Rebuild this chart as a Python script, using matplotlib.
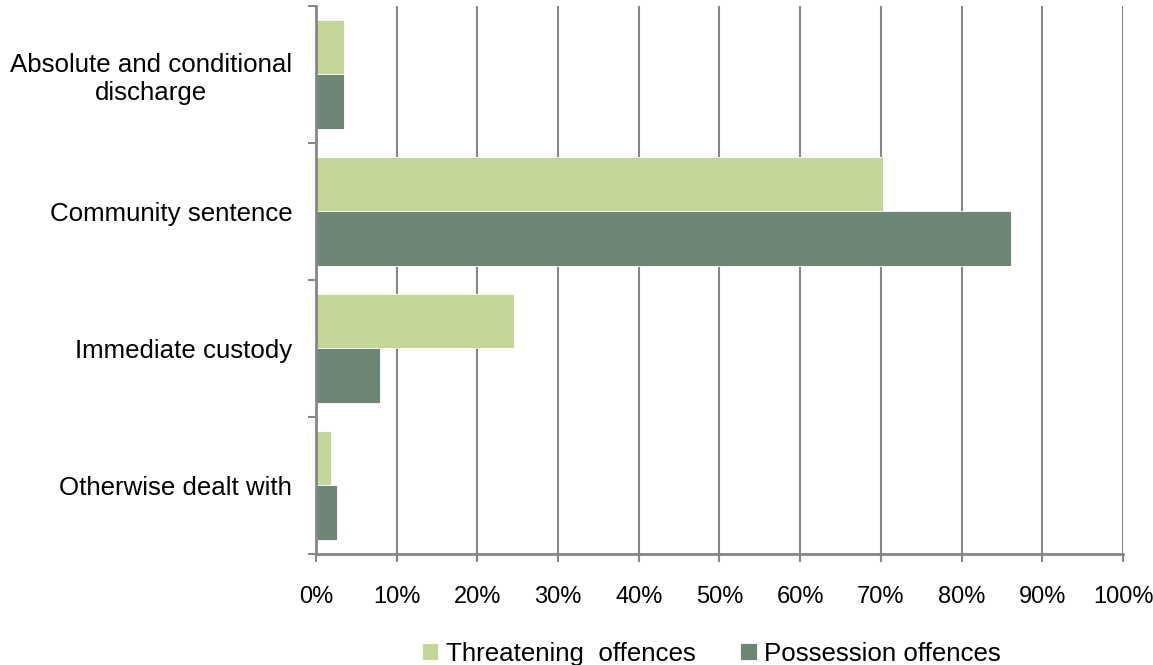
import numpy as np
import matplotlib
matplotlib.use("Agg")
from matplotlib import pyplot as plt
from matplotlib.ticker import FixedLocator, FuncFormatter

# sentencing outcomes (% of offenders)
categories = ["Absolute and conditional\ndischarge", "Community sentence",
              "Immediate custody", "Otherwise dealt with"]
threatening = [3.5, 70.2, 24.5, 1.9]
possession = [3.5, 86.1, 7.9, 2.6]
xticks = list(range(0, 101, 10))

plt.rcParams['font.family'] = ['Liberation Sans', 'DejaVu Sans']
grey = "#868686"
fs = 18.6

fig = plt.figure(figsize=(11.53, 6.65), dpi=100)
ax = fig.add_axes([0.274, 0.167, 0.7, 0.824])

y = np.arange(len(categories))
h = 0.4
ax.barh(y - h/2, threatening, height=h, color="#C4D79B", edgecolor="white",
        linewidth=0.6, label="Threatening  offences", zorder=3)
ax.barh(y + h/2, possession, height=h, color="#6F8674", edgecolor="white",
        linewidth=0.6, label="Possession offences", zorder=3)

ax.set_xlim(0, 100)
ax.set_ylim(3.5, -0.5)

ax.xaxis.set_major_locator(FixedLocator(xticks))
ax.xaxis.set_major_formatter(FuncFormatter(lambda v, p: "%d%%" % v))
ax.grid(axis="x", color=grey, linewidth=1.5, zorder=0)

# category boundaries get the tick marks, names sit in between
ax.yaxis.set_major_locator(FixedLocator(np.arange(-0.5, len(categories), 1)))
ax.yaxis.set_major_formatter(FuncFormatter(lambda v, p: ""))
ax.set_yticks(y, minor=True)
ax.set_yticklabels(categories, minor=True, multialignment="center")
ax.tick_params(axis="y", which="minor", length=0, pad=17, labelsize=fs)
ax.tick_params(axis="y", which="major", length=6, width=1.5, color=grey)
ax.tick_params(axis="x", length=6, width=1.5, color=grey, pad=17, labelsize=17)

for s in ["top", "right"]:
    ax.spines[s].set_visible(False)
for s in ["left", "bottom"]:
    ax.spines[s].set_color(grey)
    ax.spines[s].set_linewidth(2)
    ax.spines[s].set_zorder(4)

fig.legend(loc="lower center", bbox_to_anchor=(0.617, -0.036), ncol=2, frameon=False,
           fontsize=fs, handlelength=0.65, handleheight=0.65, handletextpad=0.3,
           columnspacing=1.7)

fig.savefig("out.png", dpi=100)
